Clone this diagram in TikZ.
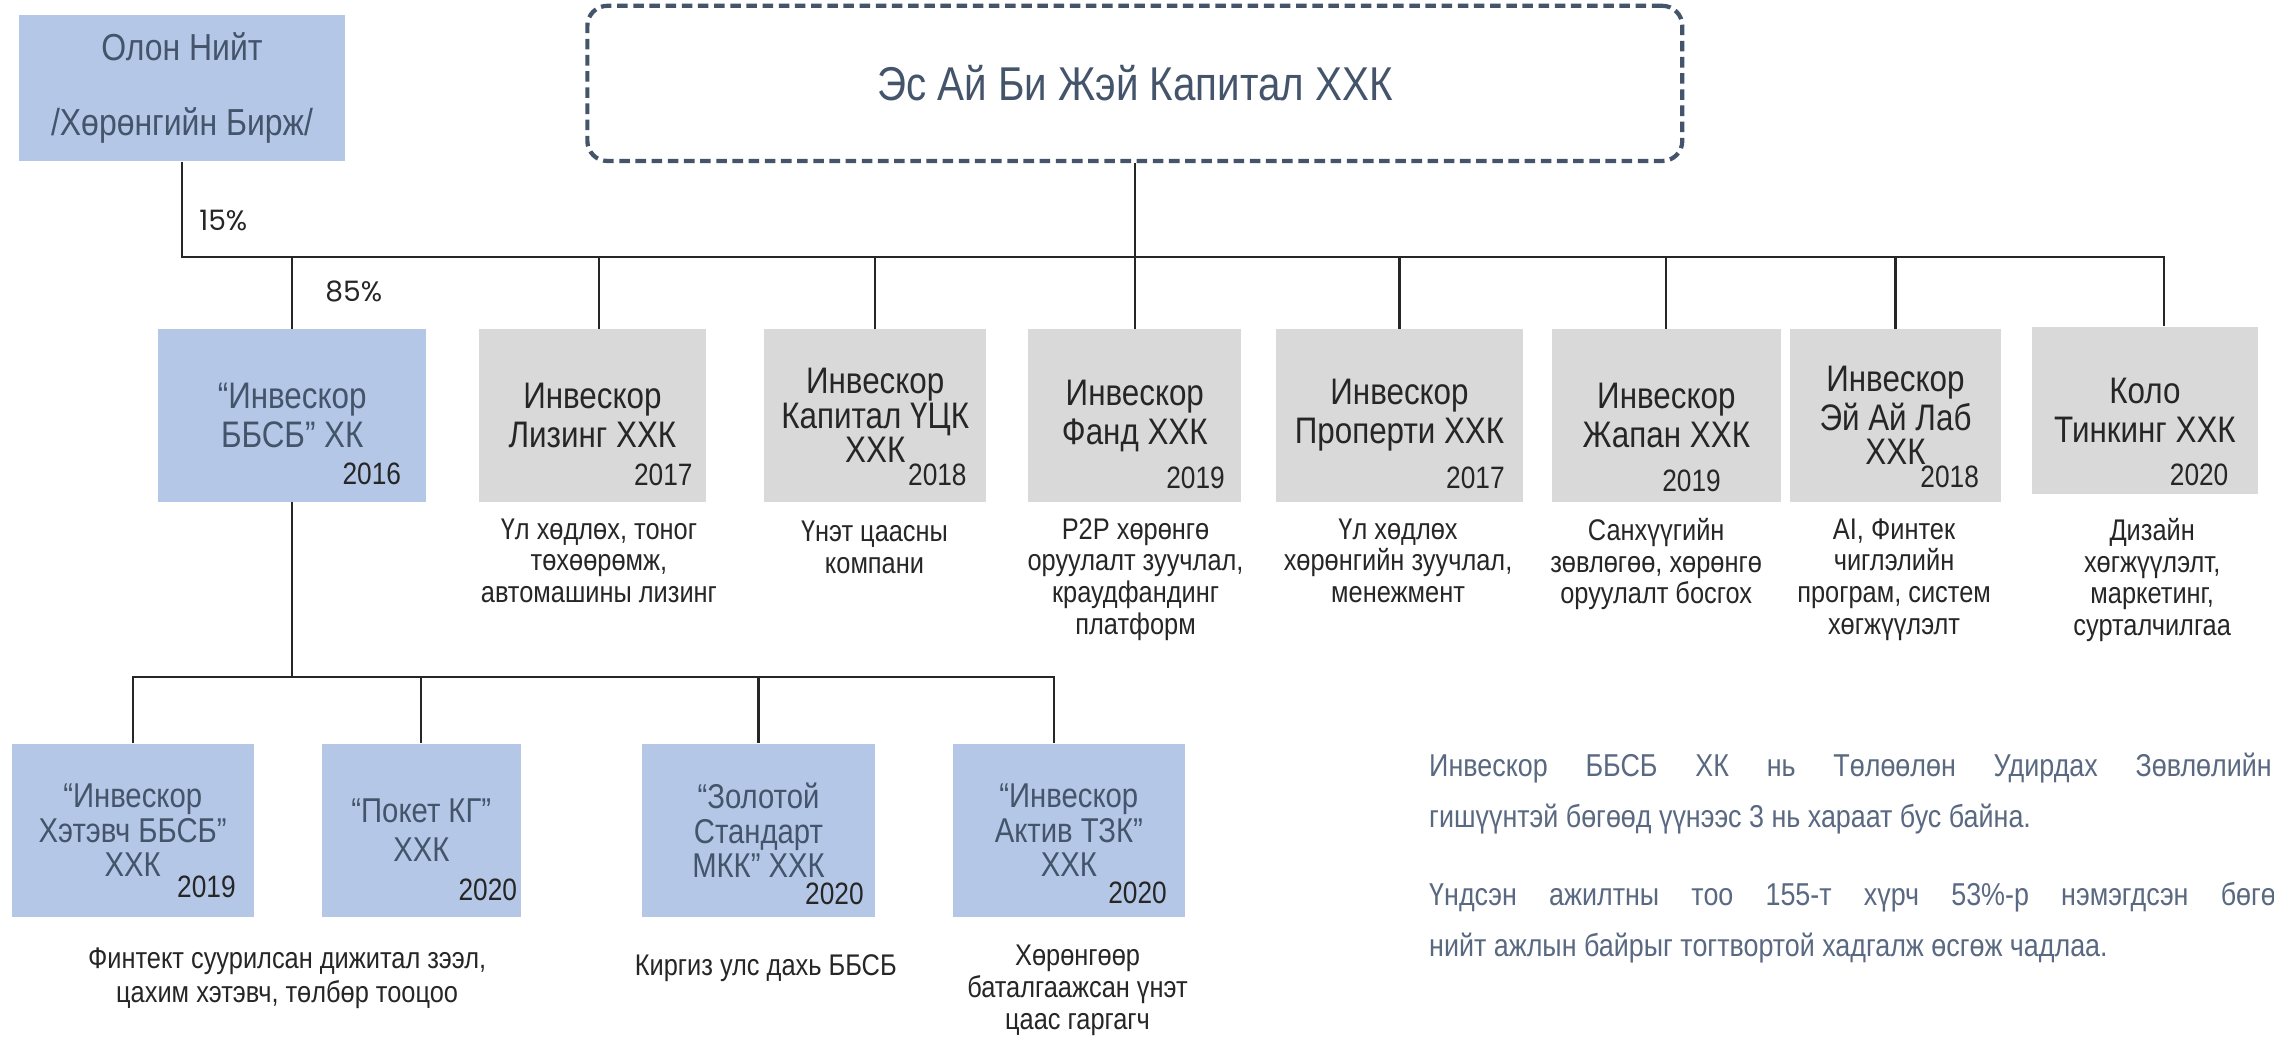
\documentclass[tikz,border=0pt]{standalone}
\usepackage{fontspec}
\setmainfont{Liberation Sans}[FakeStretch=0.85]
\newfontfamily\pctfont{Poppins}
\usepackage{tikz}
\usepackage{xcolor}

\definecolor{boxblue}{HTML}{B4C7E7}
\definecolor{boxgray}{HTML}{D9D9D9}
\definecolor{slate}{HTML}{44546A}
\definecolor{ink}{HTML}{262626}
\definecolor{notegray}{HTML}{5A6982}
\newcommand{\pxu}{0.14503mm}

\begin{document}
\begin{tikzpicture}[x=\pxu, y=-\pxu,
  conn/.style={draw=ink, line width=0.6pt},
  toplvl/.style={draw=slate, line width=1.2pt, dash pattern=on 3pt off 1.6pt, rounded corners=2mm,
    text=slate, font=\fontsize{13.5}{16}\selectfont, minimum width=755*\pxu, minimum height=107*\pxu},
  blue1/.style={fill=boxblue, text=slate, inner sep=0pt, minimum height=119*\pxu, minimum width=#1*\pxu,
    align=center, font=\fontsize{10.5}{11.1}\selectfont},
  gray1/.style={blue1=#1, fill=boxgray, text=ink},
  three/.style={font=\fontsize{10.5}{9.9}\selectfont},
  blue2/.style={fill=boxblue, text=slate, inner sep=0pt, minimum height=119*\pxu, minimum width=#1*\pxu,
    align=center, font=\fontsize{9.8}{9.9}\selectfont},
  year/.style={anchor=base east, inner sep=0pt, text=ink, font=\fontsize{8.8}{9}\selectfont},
  desc/.style={anchor=north, inner sep=0pt, align=center, text=ink, font=\fontsize{8.5}{9}\selectfont},
  desctwo/.style={desc, font=\fontsize{8.5}{9.6}\selectfont},
  pct/.style={inner sep=0pt, text=ink, font=\pctfont\fontsize{8}{9}\selectfont},
  note/.style={anchor=north west, inner sep=0pt, align=justify, text=notegray, font=\fontsize{9}{14.4}\selectfont}]

\path[fill=white, use as bounding box] (0,0) rectangle (1568,716);
\clip (0,0) rectangle (1568,716);

% owners
\node[blue1=225, minimum height=101*\pxu, font=\fontsize{10.7}{21.4}\selectfont] (olon) at (125.5,60.5) {Олон Нийт\\/Хөрөнгийн Бирж/};
\node[toplvl] (top) at (782.5,57.5) {Эс Ай Би Жэй Капитал ХХК};

% first level
\node[blue1=185] (bbsb) at (201.5,286.5) {“Инвескор\\ББСБ” ХК};
\node[gray1=157] (lea) at (408.5,286.5) {Инвескор\\Лизинг ХХК};
\node[gray1=153, three] (cap) at (603.5,286.5) {Инвескор\\Капитал ҮЦК\\ХХК};
\node[gray1=147] (fand) at (782.5,286.5) {Инвескор\\Фанд ХХК};
\node[gray1=170] (prop) at (965,286.5) {Инвескор\\Проперти ХХК};
\node[gray1=158] (jap) at (1149,286.5) {Инвескор\\Жапан ХХК};
\node[gray1=146, three] (ai) at (1307,286.5) {Инвескор\\Эй Ай Лаб\\ХХК};
\node[gray1=156, minimum height=115*\pxu] (kolo) at (1479,283) {Коло\\Тинкинг ХХК};

\node[year] (bbsb-y) at (277,334) {2016};
\node[year] (lea-y) at (478,335) {2017};
\node[year] (cap-y) at (667,335) {2018};
\node[year] (fand-y) at (845,337) {2019};
\node[year] (prop-y) at (1038,337) {2017};
\node[year] (jap-y) at (1187,339) {2019};
\node[year] (ai-y) at (1365,336) {2018};
\node[year] (kolo-y) at (1537,335) {2020};

\node[desc] (lea-d) at (413,357) {Үл хөдлөх, тоног\\төхөөрөмж,\\автомашины лизинг};
\node[desc] (cap-d) at (603,359) {Үнэт цаасны\\компани};
\node[desc] (fand-d) at (783,357) {P2P хөрөнгө\\оруулалт зуучлал,\\краудфандинг\\платформ};
\node[desc] (prop-d) at (964,357) {Үл хөдлөх\\хөрөнгийн зуучлал,\\менежмент};
\node[desc] (jap-d) at (1142,357) {Санхүүгийн\\зөвлөгөө, хөрөнгө\\оруулалт босгох};
\node[desc] (ai-d) at (1306,357) {AI, Финтек\\чиглэлийн\\програм, систем\\хөгжүүлэлт};
\node[desc] (kolo-d) at (1484,357) {Дизайн\\хөгжүүлэлт,\\маркетинг,\\сурталчилгаа};

% second level
\node[blue2=167] (het) at (91.5,572.5) {“Инвескор\\Хэтэвч ББСБ”\\ХХК};
\node[blue2=137, font=\fontsize{9.8}{11.1}\selectfont] (pok) at (290.5,572.5) {“Покет КГ”\\ХХК};
\node[blue2=160] (zol) at (523,572.5) {“Золотой\\Стандарт\\МКК” ХХК};
\node[blue2=160] (akt) at (737,572.5) {“Инвескор\\Актив ТЗК”\\ХХК};

\node[year] (het-y) at (163,619) {2019};
\node[year] (pok-y) at (357,621) {2020};
\node[year] (zol-y) at (596,624) {2020};
\node[year] (akt-y) at (805,623) {2020};

\node[desctwo] (het-d) at (198,653) {Финтект суурилсан дижитал зээл,\\цахим хэтэвч, төлбөр тооцоо};
\node[desctwo] (zol-d) at (528,658) {Киргиз улс дахь ББСБ};
\node[desc, font=\fontsize{8.5}{9.1}\selectfont] (akt-d) at (743,651) {Хөрөнгөөр\\баталгаажсан үнэт\\цаас гаргагч};

% shares
\node[pct] (p15) at (154,152) {15\%};
\node[pct] (p85) at (244,201) {85\%};

% notes
\node[note, text width=581*\pxu] (board) at (985,519) {Инвескор ББСБ ХК нь Төлөөлөн Удирдах Зөвлөлийн\linebreak гишүүнтэй бөгөөд үүнээс 3 нь хараат бус байна.};
\node[note, text width=605*\pxu] (staff) at (985,608) {Үндсэн ажилтны тоо 155-т хүрч 53\%-р нэмэгдсэн бөгөөд\linebreak нийт ажлын байрыг тогтвортой хадгалж өсгөж чадлаа.};

% connectors
\coordinate (b1) at (0,177);
\coordinate (b2) at (0,467);
\coordinate (lea-in) at ([shift={(4.5,0)}]lea.north);
\coordinate (kolo-in) at ([shift={(13,0)}]kolo.north);
\coordinate (akt-in) at ([shift={(-10,0)}]akt.north);

\draw[conn] (olon.south) |- (kolo-in |- b1) -- (kolo-in);
\draw[conn] (top.south) -- (top.south |- b1);
\draw[conn] (lea-in |- b1) -- (lea-in);
\foreach \n in {bbsb,cap,fand,prop,jap,ai}
  \draw[conn] (\n.north |- b1) -- (\n.north);

\draw[conn] (bbsb.south) -- (bbsb.south |- b2);
\draw[conn] (het.north) |- (akt-in |- b2) -- (akt-in);
\foreach \n in {pok,zol}
  \draw[conn] (\n.north |- b2) -- (\n.north);
\end{tikzpicture}
\end{document}
